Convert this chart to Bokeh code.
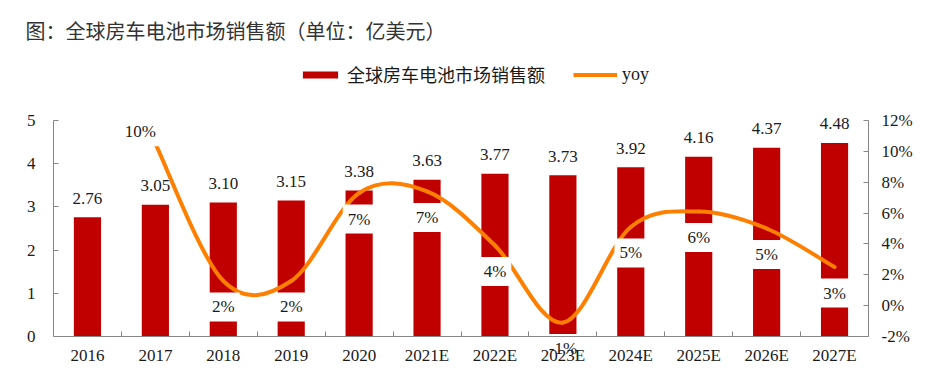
from bokeh.plotting import figure
from bokeh.layouts import column
from bokeh.models import (Range1d, LinearAxis, FixedTicker, PrintfTickFormatter,
                          Legend, LegendItem, ColumnDataSource)
from bokeh.core.properties import value
from bokeh.embed import file_html
from bokeh.resources import INLINE

# ---------------- data ----------------
categories = ["2016", "2017", "2018", "2019", "2020", "2021E", "2022E",
              "2023E", "2024E", "2025E", "2026E", "2027E"]
sales = [2.76, 3.05, 3.10, 3.15, 3.38, 3.63, 3.77, 3.73, 3.92, 4.16, 4.37, 4.48]
sales_labels = ["2.76", "3.05", "3.10", "3.15", "3.38", "3.63", "3.77",
                "3.73", "3.92", "4.16", "4.37", "4.48"]
yoy_categories = ["2017", "2018", "2019", "2020", "2021E", "2022E",
                  "2023E", "2024E", "2025E", "2026E", "2027E"]
yoy = [10.5, 1.6, 1.6, 7.3, 7.4, 3.9, -1.1, 5.1, 6.1, 5.0, 2.5]
yoy_labels = ["10%", "2%", "2%", "7%", "7%", "4%", "-1%", "5%", "6%", "5%", "3%"]
left_ticks = [0, 1, 2, 3, 4, 5]
right_ticks = [-2, 0, 2, 4, 6, 8, 10, 12]

title_text = "图：全球房车电池市场销售额（单位：亿美元）"
bar_name = "全球房车电池市场销售额"
line_name = "yoy"

# ---------------- styling / layout (pixels) ----------------
RED = "#C00000"
ORANGE = "#FF8000"
AXIS = "#868686"
TXT = "#1a1a1a"
SERIF = "Liberation Serif"
MIX = "'Liberation Serif', 'Noto Sans CJK SC'"
FS = "17px"
W = 940
H1 = 100            # header (title + legend)
H2 = 270            # chart canvas, from page y=100 to 370
AX_TOP = 120 - H1   # pixel of the top axis value inside chart canvas
AX_BOT = 336 - H1   # pixel of the bottom axis value inside chart canvas
BL, BR = 53, W - 868
TPAD = 8


def padded(lo, hi):
    per = (AX_BOT - AX_TOP) / (hi - lo)
    return Range1d(lo - (H2 - AX_BOT) / per, hi + AX_TOP / per)


xpos = {c: i + 0.5 for i, c in enumerate(categories)}
bar_x = [xpos[c] for c in categories]
yoy_x = [xpos[c] for c in yoy_categories]

# ---------------- chart ----------------
p = figure(width=W, height=H2, output_backend="svg", toolbar_location=None, title=None,
           x_range=Range1d(0, len(categories)), y_range=padded(left_ticks[0], left_ticks[-1]),
           min_border_left=BL, min_border_right=BR, min_border_top=0, min_border_bottom=0)
p.extra_y_ranges = {"yoy": padded(right_ticks[0], right_ticks[-1])}
p.outline_line_color = None
p.xgrid.visible = False
p.ygrid.visible = False

bsrc = ColumnDataSource(dict(x=bar_x, top=sales, lab=sales_labels))
bars = p.vbar(x="x", top="top", width=0.4, source=bsrc, fill_color=RED, line_color=None)
p.text(x="x", y="top", text="lab", source=bsrc, y_offset=-19,
       text_align="center", text_baseline="middle",
       text_font=value(SERIF), text_font_size=FS, text_color=TXT)

# smooth yoy line (Catmull-Rom -> cubic Bezier, derived from the data)
n = len(yoy)
x0, y0, x1, y1, cx0, cy0, cx1, cy1 = ([] for _ in range(8))
for i in range(n - 1):
    a = max(i - 1, 0)
    d = min(i + 2, n - 1)
    x0.append(yoy_x[i]); y0.append(yoy[i])
    x1.append(yoy_x[i + 1]); y1.append(yoy[i + 1])
    cx0.append(yoy_x[i] + (yoy_x[i + 1] - yoy_x[a]) / 6)
    cy0.append(yoy[i] + (yoy[i + 1] - yoy[a]) / 6)
    cx1.append(yoy_x[i + 1] - (yoy_x[d] - yoy_x[i]) / 6)
    cy1.append(yoy[i + 1] - (yoy[d] - yoy[i]) / 6)
p.bezier(x0=x0, y0=y0, x1=x1, y1=y1, cx0=cx0, cy0=cy0, cx1=cx1, cy1=cy1,
         line_color=ORANGE, line_width=4, line_cap="round", y_range_name="yoy")

xo = [-15] + [0] * (n - 1)
yo = [-12] + [26] * (n - 1)
lsrc = ColumnDataSource(dict(x=yoy_x, y=yoy, lab=yoy_labels, xo=xo, yo=yo))
p.text(x="x", y="y", text="lab", source=lsrc, x_offset="xo", y_offset="yo",
       text_align="center", text_baseline="middle",
       text_font=value(SERIF), text_font_size=FS, text_color=TXT,
       background_fill_color="white", padding=5, y_range_name="yoy")

xa = p.xaxis[0]
xa.fixed_location = left_ticks[0]
xa.ticker = FixedTicker(ticks=bar_x, minor_ticks=list(range(len(categories) + 1)))
xa.major_label_overrides = {x: c for x, c in zip(bar_x, categories)}
xa.major_tick_in = 0
xa.major_tick_out = 0
xa.minor_tick_in = 5
xa.minor_tick_out = 0
xa.minor_tick_line_color = AXIS
xa.axis_line_color = AXIS
xa.major_label_text_font = SERIF
xa.major_label_text_font_size = FS
xa.major_label_text_color = TXT
xa.major_label_standoff = 9

ya = p.yaxis[0]
ya.bounds = (left_ticks[0], left_ticks[-1])
ya.ticker = FixedTicker(ticks=left_ticks)
ya.major_tick_in = 5
ya.major_tick_out = 0
ya.minor_tick_line_color = None
ya.axis_line_color = AXIS
ya.major_tick_line_color = AXIS
ya.major_label_text_font = SERIF
ya.major_label_text_font_size = FS
ya.major_label_text_color = TXT
ya.major_label_standoff = 18

ra = LinearAxis(y_range_name="yoy", ticker=FixedTicker(ticks=right_ticks),
                formatter=PrintfTickFormatter(format="%d%%"),
                bounds=(right_ticks[0], right_ticks[-1]))
ra.major_tick_in = 5
ra.major_tick_out = 0
ra.minor_tick_line_color = None
ra.axis_line_color = AXIS
ra.major_tick_line_color = AXIS
ra.major_label_text_font = SERIF
ra.major_label_text_font_size = FS
ra.major_label_text_color = TXT
ra.major_label_standoff = 13
p.add_layout(ra, "right")

# ---------------- header: title + legend ----------------
h = figure(width=W, height=H1, output_backend="svg", toolbar_location=None,
           x_axis_location=None, y_axis_location=None,
           x_range=Range1d(0, len(categories)), y_range=Range1d(0, 1),
           min_border_left=BL, min_border_right=BR, min_border_top=0, min_border_bottom=0)
h.outline_line_color = None
h.xgrid.visible = False
h.ygrid.visible = False
h.title.text = title_text
h.title.text_font = "Noto Sans CJK SC"
h.title.text_font_size = "20px"
h.title.text_font_style = "normal"
h.title.text_color = "#333333"
h.title.align = "left"
h.title.padding = TPAD
h.title.offset = 25 - BL - TPAD

hb = h.vbar(x=bar_x, top=sales, width=0.4, fill_color=RED, line_color=None, visible=False)
hl = h.line(x=yoy_x, y=yoy, line_color=ORANGE, line_width=4, visible=False)

legend = Legend(items=[LegendItem(label=bar_name, renderers=[hb]),
                       LegendItem(label=line_name, renderers=[hl])],
                orientation="horizontal", location=(298 - BL, H1 - 87),
                glyph_width=44, glyph_height=9, label_standoff=5, spacing=28,
                label_text_font=MIX, label_text_font_size="18px",
                label_text_color=TXT, border_line_color=None,
                background_fill_alpha=0, inactive_fill_alpha=0,
                padding=0, margin=0)
h.add_layout(legend)

layout = column(h, p, spacing=0)
open("out.html", "w").write(file_html(layout, INLINE))
